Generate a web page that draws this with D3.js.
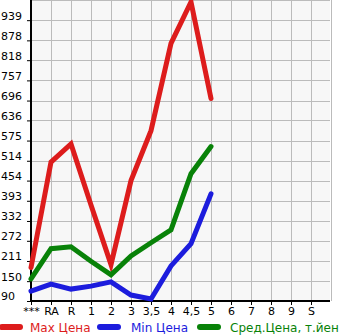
<!DOCTYPE html>
<html><head><meta charset="utf-8">
<script src="https://cdn.jsdelivr.net/npm/d3@7"></script>
<style>body{margin:0;background:#fff}svg{display:block}text{font-family:"DejaVu Sans",sans-serif}</style>
</head><body>
<svg id="c" width="345" height="335"></svg>
<script>
const categories = ["***","RA","R","1","2","3","3,5","4","4,5","5","6","7","8","9","S"];
const maxPrice = [191,510,565,380,200,454,605,869,994,702];
const minPrice = [120,141,126,135,148,108,96,196,263,414];
const avgPrice = [157,248,254,210,169,226,266,305,475,557];
const yTicks = [90,150,211,272,332,393,454,514,575,636,696,757,818,878,939];
const legendLabels = ["Max Цена","Min Цена","Сред.Цена, т.йен"];
const colors = ["#dd1c1c","#1c1cdd","#088208"];

const svg = d3.select("#c");
const x = d3.scalePoint().domain(categories).range([31,311]);
const y = d3.scaleLinear().domain([90,1000]).range([301,0]);

svg.append("rect").attr("x",31).attr("y",0).attr("width",299).attr("height",301).attr("fill","#f7f7f7");
// grid
const g = svg.append("g");
categories.concat(["_end"]).forEach((c,i)=>{
  const xx = i<categories.length ? x(c) : x("S")+20;
  if(i>0) g.append("line").attr("x1",xx+0.5).attr("x2",xx+0.5).attr("y1",0).attr("y2",301).attr("stroke","#bbb").attr("stroke-width",1);
});
yTicks.concat([1000]).forEach(v=>{
  g.append("line").attr("x1",31).attr("x2",330).attr("y1",Math.round(y(v))+0.5).attr("y2",Math.round(y(v))+0.5).attr("stroke","#bbb");
});

// y axis
const ya = d3.axisLeft(y).tickValues(yTicks).tickSize(4).tickFormat(d=>d);
const yg = svg.append("g").attr("transform","translate(31,0)").call(ya);
yg.select(".domain").attr("stroke","#000").attr("stroke-width",2).attr("d","M0,0V301");
yg.selectAll(".tick line").attr("stroke","#000");
yg.selectAll(".tick text").attr("x",-30).attr("text-anchor","start").attr("font-size",11).attr("fill","#000").attr("dy","-0.1em").attr("font-family","DejaVu Sans");

// x axis
const xa = d3.axisBottom(x).tickSize(4);
const xg = svg.append("g").attr("transform","translate(0,301)").call(xa);
xg.select(".domain").attr("stroke","#000").attr("stroke-width",2).attr("d","M31,0H330");
xg.selectAll(".tick line").attr("stroke","#000");
xg.selectAll(".tick text").attr("font-size",11).attr("fill","#000").attr("y",6).attr("font-family","DejaVu Sans");

const line = d3.line().x((d,i)=>x(categories[i])).y(d=>y(d));
[[maxPrice,0],[minPrice,1],[avgPrice,2]].forEach(([data,k])=>{
  svg.append("path").attr("d",line(data)).attr("fill","none").attr("stroke",colors[k]).attr("stroke-width",5).attr("stroke-linejoin","miter").attr("stroke-linecap","round");
});

// legend
const lx = [0,98,198], tx=[30,131,230];
legendLabels.forEach((t,k)=>{
  svg.append("line").attr("x1",lx[k]+2).attr("x2",lx[k]+20).attr("y1",327).attr("y2",327).attr("stroke",colors[k]).attr("stroke-width",6).attr("stroke-linecap","round");
  svg.append("text").attr("x",tx[k]).attr("y",332).attr("font-size",12).attr("fill",colors[k]).text(t);
});
</script>
</body></html>
